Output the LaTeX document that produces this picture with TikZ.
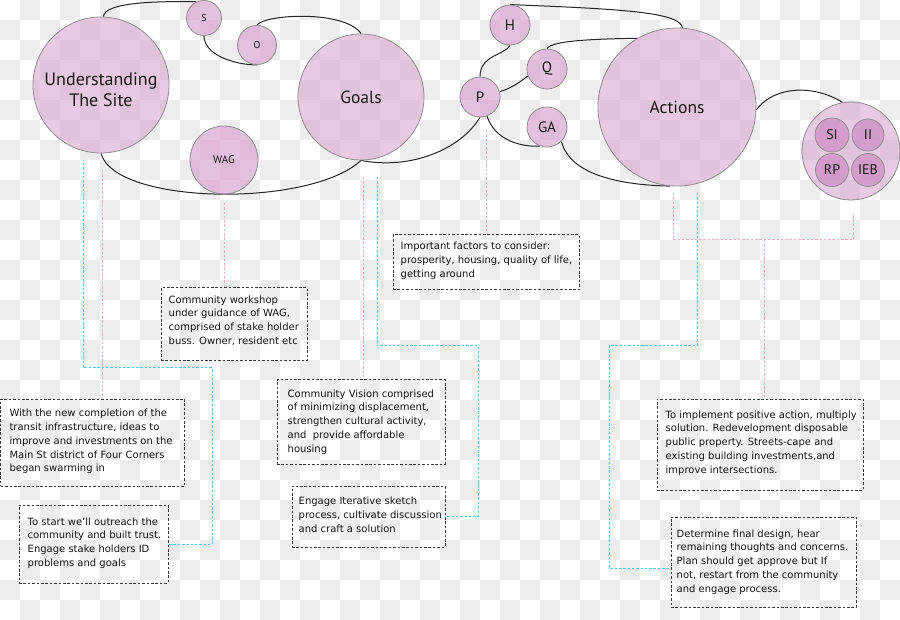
\documentclass[tikz,border=0pt]{standalone}
\usepackage{fontspec}
\setmainfont{DejaVu Sans}
\newfontfamily\circfont{PT Sans}
\usetikzlibrary{backgrounds}
\definecolor{chk}{HTML}{EDEDED}
\definecolor{pinkfill}{RGB}{214,160,205}
\definecolor{innerfill}{RGB}{200,130,190}
\definecolor{ringc}{HTML}{8E8E8E}
\definecolor{cyanl}{HTML}{45CEF2}
\definecolor{pinkl}{HTML}{F2AFC3}
\definecolor{boxc}{HTML}{3A3A3A}
\tikzset{
  bigc/.style={circle, draw=ringc, line width=0.8pt, fill=pinkfill, fill opacity=0.55, text opacity=1,
    inner sep=0pt, align=center, text=black!90, font=\circfont\fontsize{17.5}{21}\selectfont},
  smallc/.style={bigc, fill opacity=0.65, font=\circfont\fontsize{15}{18}\selectfont},
  tinyc/.style={bigc, fill opacity=0.65, font=\circfont\fontsize{10}{12}\selectfont},
  innerc/.style={bigc, fill=innerfill, fill opacity=0.62, font=\circfont\fontsize{14}{16}\selectfont},
  lbl/.style={inner sep=0pt, align=center, text=black!90, font=\circfont\fontsize{18}{21}\selectfont},
  boxs/.style={draw=boxc, dash pattern=on 2.6pt off 1.8pt, line width=1pt, rectangle, inner sep=0pt},
  txt/.style={font=\fontsize{10}{13.8}\selectfont, align=left, inner sep=0pt, text=black!92, anchor=west},
  link/.style={draw=black!85, line width=1pt},
  cyl/.style={draw=cyanl, line width=1pt, dash pattern=on 2.5pt off 1.8pt},
  pkl/.style={draw=pinkl, line width=1pt, dash pattern=on 2.5pt off 1.8pt}
}
\begin{document}
\begin{tikzpicture}[x=1pt,y=-1pt]
\useasboundingbox (0,0) rectangle (900,620);
\begin{pgfonlayer}{background}
  \fill[white] (0,0) rectangle (900,620);
  \foreach \j in {0,2,...,30} {\foreach \i in {1,3,...,43} {\fill[chk] (\i*20,\j*20) rectangle ++(20,20);}}
  \foreach \j in {1,3,...,29} {\foreach \i in {0,2,...,44} {\fill[chk] (\i*20,\j*20) rectangle ++(20,20);}}
\end{pgfonlayer}

% circles
\node[bigc, minimum size=136pt] (und) at (101,85) {};
\node[lbl] (undt) at (101,89.5) {Understanding\\The Site};
\node[bigc, minimum size=126pt] (goals) at (361,97) {Goals};
\node[bigc, minimum size=158pt] (actions) at (677,107) {Actions};
\node[tinyc, minimum size=35pt] (S) at (204,18) {S};
\node[tinyc, minimum size=39pt] (O) at (257,45) {O};
\node[tinyc, minimum size=68pt, font=\circfont\fontsize{11}{13}\selectfont] (WAG) at (224,160) {WAG};
\node[smallc, minimum size=40pt] (H) at (510,25) {H};
\node[smallc, minimum size=40pt] (Q) at (547,69) {Q};
\node[smallc, minimum size=40pt] (P) at (480,97) {P};
\node[smallc, minimum size=40pt] (GA) at (547,127) {GA};
\node[bigc, minimum size=98pt] (grp) at (851,151) {};
\node[innerc, minimum size=34pt] (SI) at (832,135) {SI};
\node[innerc, minimum size=32pt] (II) at (868,135) {II};
\node[innerc, minimum size=33pt] (RP) at (832,170) {RP};
\node[innerc, minimum size=33pt] (IEB) at (868,170) {IEB};

% boxes
\node[boxs, minimum width=184pt, minimum height=87pt] (box1) at (92.8,442.5) {};
\node[boxs, minimum width=149pt, minimum height=78pt] (box2) at (93.5,544) {};
\node[boxs, minimum width=168pt, minimum height=84pt] (box3) at (361,422) {};
\node[boxs, minimum width=153pt, minimum height=61pt] (box4) at (368.5,516.5) {};
\node[boxs, minimum width=146pt, minimum height=73pt] (box5) at (234,324.5) {};
\node[boxs, minimum width=186pt, minimum height=55pt] (box6) at (486,262.5) {};
\node[boxs, minimum width=206pt, minimum height=91pt] (box7) at (760,444.5) {};
\node[boxs, minimum width=185pt, minimum height=90pt] (box8) at (763.5,562) {};

\node[txt] (t1) at ([xshift=9pt,yshift=1pt]box1.west) {With the new completion of the\\transit infrastructure, ideas to\\improve and investments on the\\Main St district of Four Corners\\began swarming in};
\node[txt] (t2) at ([xshift=9pt,yshift=1pt]box2.west) {To start we’ll outreach the\\community and built trust.\\Engage stake holders ID\\problems and goals};
\node[txt] (t3) at ([xshift=11pt]box3.west) {Community Vision comprised\\of minimizing displacement,\\strengthen cultural activity,\\and~ provide affordable\\housing};
\node[txt] (t4) at ([xshift=7pt,yshift=1.5pt]box4.west) {Engage Iterative sketch\\process, cultivate discussion\\and craft a solution};
\node[txt] (t5) at ([xshift=8pt,yshift=4pt]box5.west) {Community workshop\\under guidance of WAG,\\comprised of stake holder\\buss. Owner, resident etc};
\node[txt] (t6) at ([xshift=8pt,yshift=1.5pt]box6.west) {Important factors to consider:\\prosperity, housing, quality of life,\\getting around};
\node[txt] (t7) at ([xshift=9pt,yshift=1.5pt]box7.west) {To implement positive action, multiply\\solution. Redevelopment disposable\\public property. Streets-cape and\\existing building investments,and\\improve intersections.};
\node[txt] (t8) at ([xshift=6pt]box8.west) {Determine final design, hear\\remaining thoughts and concerns.\\Plan should get approve but If\\not, restart from the community\\and engage process.};

% free ends of the dashed leaders
\coordinate (cu) at (83,163);
\coordinate (pu) at (102,170);
\coordinate (pw) at (224,203);
\coordinate (pgo) at (363,177);
\coordinate (cgo) at (377,177);
\coordinate (pp) at (486,130);
\coordinate (pa) at (673,193);
\coordinate (ca) at (697,193);
\coordinate (pg) at (853,213);
\coordinate (jn) at (764,240);

\begin{pgfonlayer}{background}
  % solid connectors
  \draw[link] (und.88) .. controls (104,2) and (160,1) .. (S.115);
  \draw[link] (S.south) .. controls (204,55) and (235,65) .. (O.south);
  \draw[link] (O.north) .. controls (265,14) and (345,10) .. (goals.north);
  \draw[link] (und.south) .. controls (115,205) and (310,208) .. (goals.south);
  \draw[link] (goals.south) .. controls (410,170) and (460,150) .. (P.south);
  \draw[link] (P.north) .. controls (480,55) and (505,55) .. (H.south);
  \draw[link] (P.15) .. controls (512,88) and (520,82) .. (Q.200);
  \draw[link] (P.290) .. controls (495,140) and (520,147) .. (GA.250);
  \draw[link] (H.north) .. controls (620,9) and (680,12) .. (actions.86);
  \draw[link] (Q.north) .. controls (552,40) and (600,39) .. (actions.120);
  \draw[link] (GA.315) .. controls (570,175) and (620,185) .. (actions.265);
  \draw[link] (actions.358) .. controls (775,85) and (815,85) .. (grp.100);
  % dashed leaders
  \draw[cyl] (cu) |- (212,368) |- (box2.east);
  \draw[pkl] (pu) -- (pu |- box1.north);
  \draw[pkl] (pw) -- (pw |- box5.north);
  \draw[pkl] (pgo) -- (pgo |- box3.north);
  \draw[cyl] (cgo) |- (478,346) |- (box4.east);
  \draw[pkl] (pp) -- (pp |- box6.north);
  \draw[pkl] (pa) |- (pg |- jn) -- (pg);
  \draw[pkl] (jn) -- (jn |- box7.north);
  \draw[cyl] (ca) |- (609,346) |- ([yshift=-6pt]box8.west);
\end{pgfonlayer}
\end{tikzpicture}
\end{document}
